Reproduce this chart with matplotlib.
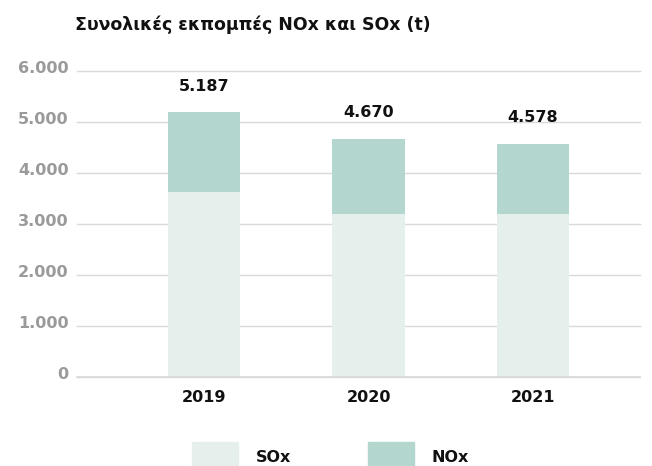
import matplotlib
matplotlib.use('Agg')
import matplotlib.pyplot as plt
import matplotlib.transforms as mtransforms
from matplotlib.patches import Rectangle

years = ['2019', '2020', '2021']
sox = [3620, 3200, 3190]
nox = [1567, 1470, 1388]
totals = [5187, 4670, 4578]
total_labels = ['5.187', '4.670', '4.578']
yticks = [0, 1000, 2000, 3000, 4000, 5000, 6000]
ytick_labels = ['0', '1.000', '2.000', '3.000', '4.000', '5.000', '6.000']

SOX_COLOR = '#e5f0ed'
NOX_COLOR = '#b3d6cf'

plt.rcParams['font.family'] = ['DejaVu Sans']

fig = plt.figure(figsize=(6.52, 4.66), dpi=100)
W, H = 652, 466
# axes box in pixels: left 77, right 640, top 71 (6000), bottom 377 (0)
ax = fig.add_axes([77 / W, 1 - 377 / H, (640 - 77) / W, (377 - 71) / H])

x = list(range(len(years)))
ax.bar(x, sox, width=0.44, color=SOX_COLOR, zorder=2)
ax.bar(x, nox, width=0.44, bottom=sox, color=NOX_COLOR, zorder=2)

for xi, t, lab in zip(x, totals, total_labels):
    ax.annotate(lab, (xi, t), xytext=(0, 19), textcoords='offset points',
                ha='center', va='center', fontsize=11.5, fontweight='bold', color='#111111')

ax.set_xlim(-0.772, 2.65)
ax.set_ylim(0, 6000)
ax.set_yticks(yticks)
ax.set_yticklabels(ytick_labels)
ax.set_xticks(x)
ax.set_xticklabels(years)
ax.yaxis.grid(True, color='#d9d9d9', linewidth=1.0, zorder=0)
for gl in ax.yaxis.get_gridlines():
    gl.set_clip_on(False)
ax.set_axisbelow(True)
for s in ax.spines.values():
    s.set_visible(False)
ax.axhline(0, color='#d9d9d9', linewidth=1.2, zorder=3, clip_on=False)
ax.tick_params(axis='y', length=0, pad=6, labelsize=11.5, labelcolor='#9a9a9a')
ax.tick_params(axis='x', length=0, pad=9, labelsize=11.5, labelcolor='#111111')
shift = mtransforms.ScaledTranslation(0, 4 / 100, fig.dpi_scale_trans)
for lab in ax.get_yticklabels():
    lab.set_fontweight('bold')
    lab.set_transform(lab.get_transform() + shift)
for lab in ax.get_xticklabels():
    lab.set_fontweight('bold')

fig.text(75 / W, 1 - 25 / H, 'Συνολικές εκπομπές NOx και SOx (t)', ha='left', va='center',
         fontsize=12.5, fontweight='bold', color='#111111')

# legend
for x0, col, name in [(192, SOX_COLOR, 'SOx'), (368, NOX_COLOR, 'NOx')]:
    fig.patches.append(Rectangle((x0 / W, 0), 46 / W, (466 - 442) / H, color=col,
                                 transform=fig.transFigure, figure=fig))
    fig.text((x0 + 64) / W, 1 - 457 / H, name, ha='left', va='center',
             fontsize=11.5, fontweight='bold', color='#111111')

fig.savefig('out.png', dpi=100)
